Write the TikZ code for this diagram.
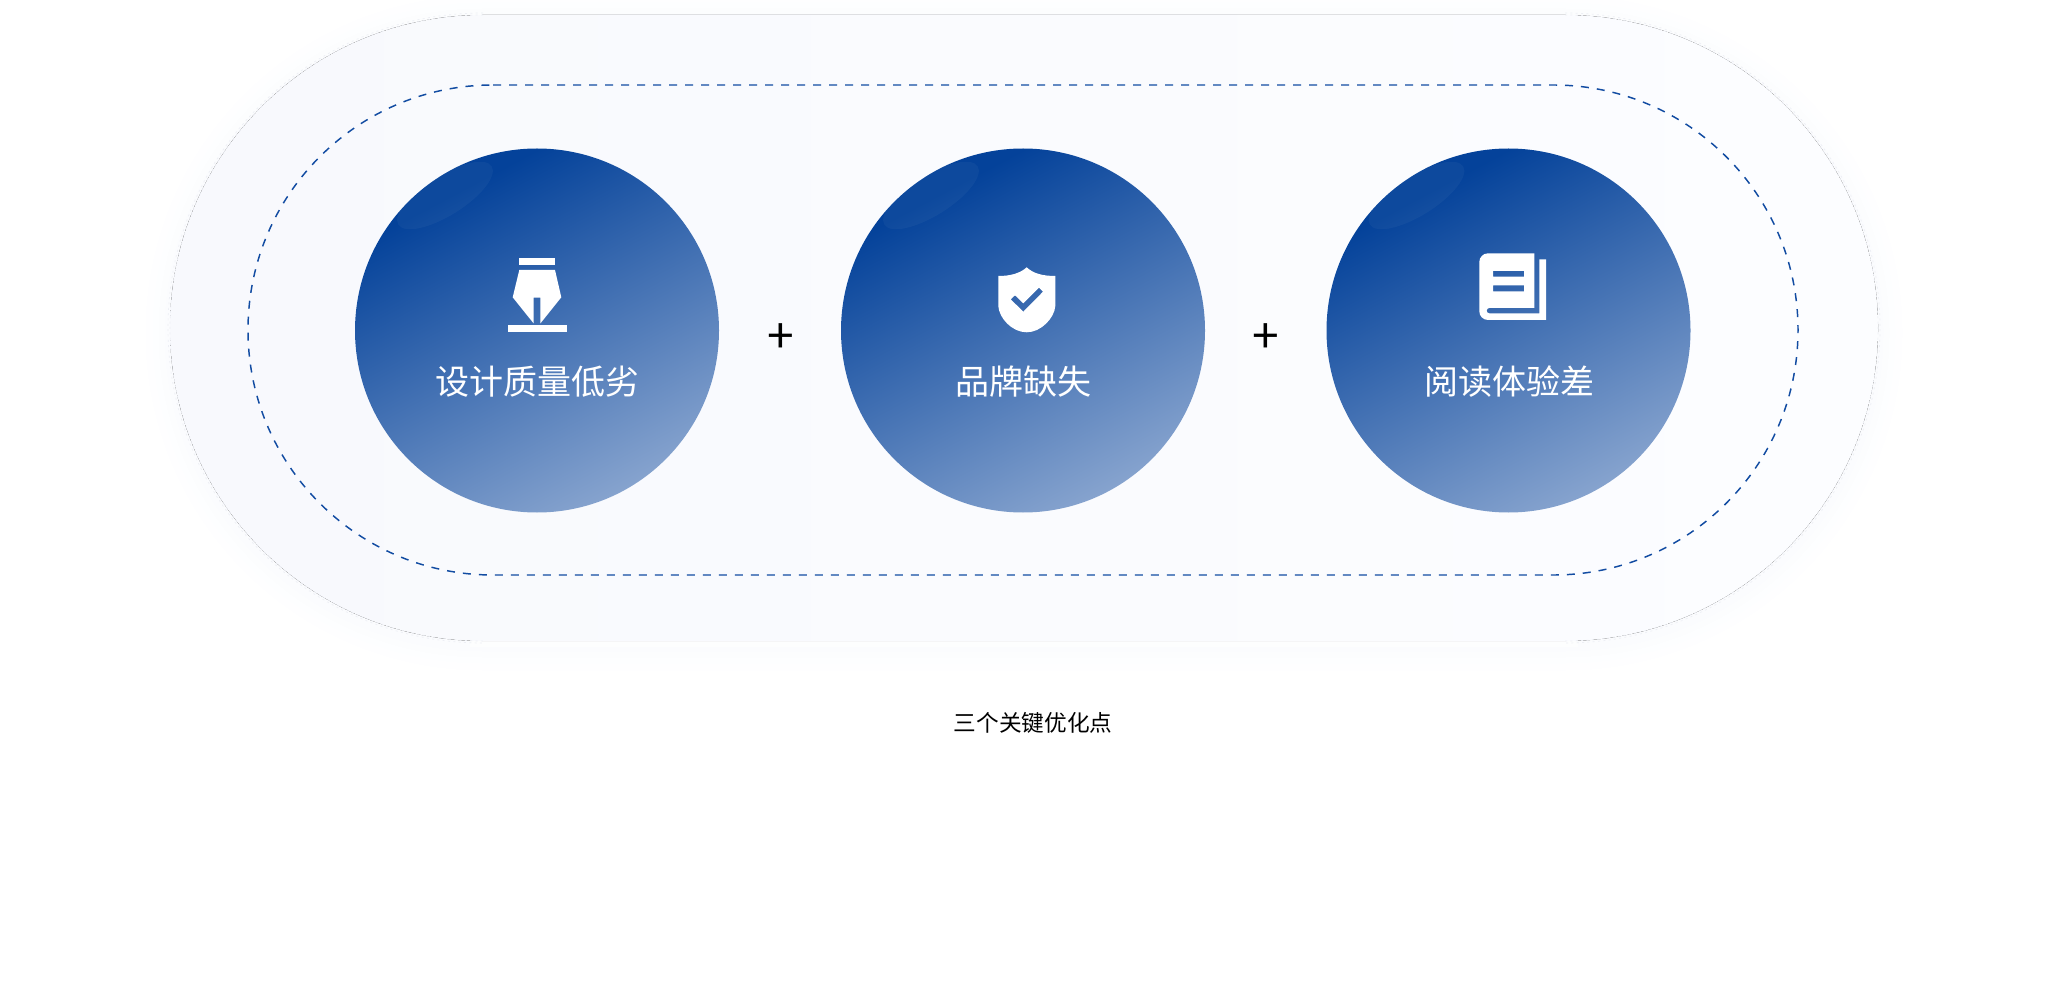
\documentclass[tikz,border=0pt]{standalone}
\usepackage{fontspec}
\setmainfont{Noto Sans CJK SC}
\usetikzlibrary{calc}
\definecolor{dashblue}{HTML}{124CA2}
\definecolor{gdark}{HTML}{04429A}
\definecolor{glight}{HTML}{86A3CE}
\definecolor{plateL}{HTML}{F8F9FD}
\definecolor{plateR}{HTML}{FCFDFF}
\definecolor{edgedots}{HTML}{EDEFF5}
\pgfdeclareverticalshading{ballgrad}{100bp}{color(0bp)=(glight);color(25bp)=(glight);color(72bp)=(gdark);color(100bp)=(gdark)}
\tikzset{
  x=0.75pt,y=-0.75pt,
  ball/.style={circle,minimum size=273pt,inner sep=0pt,shading=ballgrad,shading angle=28},
  label/.style={text=white,font=\fontsize{25.5pt}{28pt}\selectfont,inner sep=0pt},
  plus/.style={font=\fontsize{36pt}{36pt}\selectfont,inner sep=0pt,text=black},
  caption/.style={font=\fontsize{17pt}{20pt}\selectfont,inner sep=0pt,text=black},
  glyph/.style={fill=white,draw=none,even odd rule},
  edgeline/.style={edgedots,line width=0.5pt,dash pattern=on 1.5pt off 2.5pt},
}
\begin{document}
\begin{tikzpicture}
\useasboundingbox (0,0) rectangle (2048,998);
\fill[white] (0,0) rectangle (2048,998);
% soft halo
\foreach \o/\c in {24/FEFEFF,17/FDFEFF,11/FCFDFE,5/FBFCFE}{
  \definecolor{halo}{HTML}{\c}
  \fill[halo] (483,20-\o) -- (1565,20-\o) arc[start angle=-90,end angle=90,radius=313+\o] -- (483,646+\o) arc[start angle=90,end angle=270,radius=313+\o] -- cycle;
}
% plate
\fill[left color=plateL,right color=plateR] (483,15) -- (1565,15) arc[start angle=-90,end angle=90,radius=313] -- (483,641) arc[start angle=90,end angle=270,radius=313] -- cycle;
% bright rim under the plate
\fill[white,opacity=.7] (470,641) rectangle (1578,647);
% dotted rim on the rounded ends
\draw[edgeline] (483,15) arc[start angle=270,end angle=90,radius=313];
\draw[edgeline] (483,13) arc[start angle=270,end angle=90,radius=315];
\draw[edgeline] (1565,15) arc[start angle=-90,end angle=90,radius=313];
\draw[edgeline] (1565,13) arc[start angle=-90,end angle=90,radius=315];
% dashed outline
\draw[dashblue,line width=1.1pt,dash pattern=on 6pt off 6pt] (493,85) -- (1553,85) arc[start angle=-90,end angle=90,radius=245] -- (493,575) arc[start angle=90,end angle=270,radius=245] -- cycle;
% circles
\node[ball] (c1) at (537,330.5) {};
\node[ball] (c2) at (1023,330.5) {};
\node[ball] (c3) at (1508.5,330.5) {};
% sheen
\foreach \n in {c1,c2,c3}{
\begin{scope}\clip (\n) circle[radius=182];
\fill[white,opacity=.04,shift={($(\n)+(-92,-135)$)},rotate=32] (0,0) ellipse[x radius=55,y radius=20];
\end{scope}}
% pen
\fill[glyph] (519.3,258.3) rectangle (554.7,265.3);
\fill[glyph] (519.3,270) -- (555,270) -- (561.3,297.3) -- (540.3,323.5) -- (540.3,297.7) -- (533.7,297.7) -- (533.7,323.5) -- (512.7,297.3) -- cycle;
\fill[glyph] (507.7,325) rectangle (566.7,332);
% shield
\fill[glyph] (1026.7,267.3) .. controls (1020,273.5) and (1010,276) .. (998.3,276) -- (998.3,306) .. controls (999,318) and (1012,332.3) .. (1026.7,332.3) .. controls (1041,332.3) and (1054.5,318) .. (1055.3,306) -- (1055.3,276) .. controls (1043,276) and (1033,273.5) .. (1026.7,267.3) -- cycle
 (1010.7,299.3) -- (1015,295.3) -- (1023.3,303.3) -- (1039,287.7) -- (1043,291.7) -- (1023.3,311.7) -- cycle;
% book
\fill[glyph] (1534.3,253.3) -- (1534.3,308) -- (1489.3,308) arc[start angle=270,end angle=90,radius=2.65] -- (1539.3,313.3) -- (1539.3,259.3) -- (1546,259.3) -- (1546,320) -- (1488,320) arc[start angle=90,end angle=180,radius=8.7] -- (1479.3,262) arc[start angle=180,end angle=270,radius=8.7] -- cycle
 (1493,271) rectangle (1524,276.7) (1493,285.3) rectangle (1524,291.3);
% texts
\node[label] (t1) at (537.5,382) {设计质量低劣};
\node[label] (t2) at (1023,382) {品牌缺失};
\node[label] (t3) at (1509,382) {阅读体验差};
\node[plus] (p1) at (781,339) {+};
\node[plus] (p2) at (1265.5,339) {+};
\node[caption] (cap) at (1033,723) {三个关键优化点};
\end{tikzpicture}
\end{document}
